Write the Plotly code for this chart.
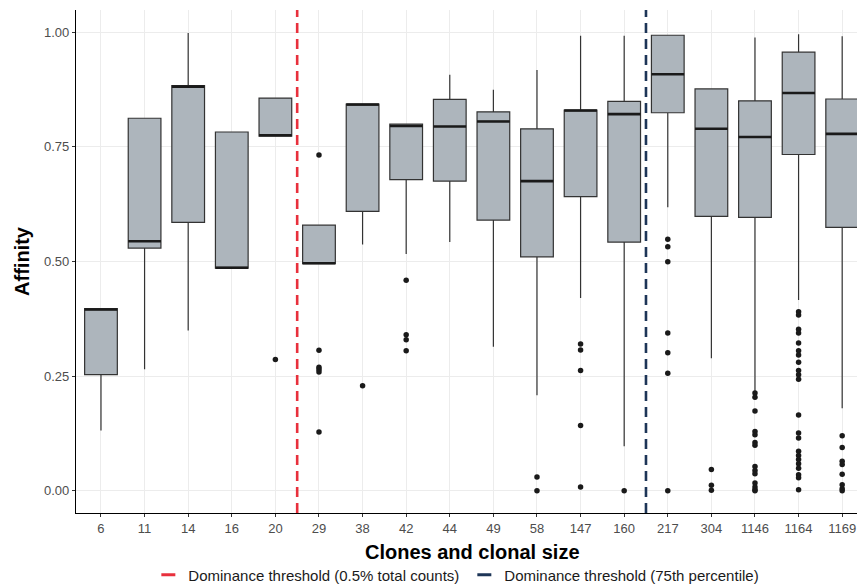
import plotly.graph_objects as go

# ---- data ----
categories = ["6", "11", "14", "16", "20", "29", "38", "42", "44", "49", "58",
              "147", "160", "217", "304", "1146", "1164", "1169"]
q1 = [0.253, 0.529, 0.585, 0.485, 0.773, 0.495, 0.609, 0.678, 0.675, 0.590, 0.510,
      0.641, 0.542, 0.824, 0.598, 0.596, 0.733, 0.574]
median = [0.395, 0.544, 0.881, 0.486, 0.775, 0.496, 0.842, 0.795, 0.794, 0.805, 0.675,
          0.829, 0.821, 0.908, 0.789, 0.771, 0.867, 0.778]
q3 = [0.397, 0.812, 0.883, 0.782, 0.856, 0.579, 0.843, 0.799, 0.853, 0.826, 0.789,
      0.830, 0.849, 0.993, 0.876, 0.850, 0.956, 0.854]
lower_whisker = [0.131, 0.265, 0.349, 0.485, 0.773, 0.495, 0.537, 0.516, 0.542, 0.314, 0.208,
                 0.420, 0.097, 0.618, 0.289, 0.213, 0.416, 0.180]
upper_whisker = [0.397, 0.812, 0.998, 0.782, 0.856, 0.579, 0.843, 0.799, 0.907, 0.874, 0.917,
                 0.992, 0.992, 0.993, 0.876, 0.988, 0.995, 0.991]
outliers = [
    [],
    [],
    [],
    [],
    [0.286],
    [0.732, 0.306, 0.269, 0.264, 0.259, 0.128],
    [0.229],
    [0.459, 0.340, 0.329, 0.305],
    [],
    [],
    [0.030, 0.0],
    [0.320, 0.307, 0.262, 0.142, 0.008],
    [0.0],
    [0.548, 0.532, 0.499, 0.344, 0.301, 0.256, 0.0],
    [0.046, 0.012, 0.001],
    [0.213, 0.204, 0.174, 0.129, 0.122, 0.105, 0.099, 0.053, 0.044, 0.037, 0.017, 0.008, 0.002, 0.0],
    [0.390, 0.383, 0.352, 0.344, 0.322, 0.305, 0.296, 0.280, 0.262, 0.253, 0.243, 0.165,
     0.126, 0.115, 0.086, 0.077, 0.068, 0.059, 0.049, 0.035, 0.028, 0.002],
    [0.120, 0.094, 0.064, 0.057, 0.036, 0.013, 0.004, 0.0],
]
threshold_pct_pos = 4.5      # between "20" and "29"
threshold_p75_pos = 12.5     # between "160" and "217"
legend_labels = ["Dominance threshold (0.5% total counts)", "Dominance threshold (75th percentile)"]
x_title = "Clones and clonal size"
y_title = "Affinity"

# ---- styling ----
FONT = "Liberation Sans, Arial, Helvetica, sans-serif"
BOX_FILL = "#adb5bc"
BOX_LINE = "#333333"
RED = "#e8303c"
NAVY = "#1d3557"
BOX_W = 0.75

pos = list(range(len(categories)))

fig = go.Figure()

fig.add_trace(go.Box(
    x=pos, q1=q1, median=median, q3=q3,
    lowerfence=lower_whisker, upperfence=upper_whisker,
    width=BOX_W, whiskerwidth=0, boxpoints=False,
    fillcolor=BOX_FILL, line=dict(color=BOX_LINE, width=1.2),
    showlegend=False, hoverinfo="skip",
))

# thicker median bars (ggplot style)
mx, my = [], []
for i, m in zip(pos, median):
    mx += [i - BOX_W / 2, i + BOX_W / 2, None]
    my += [m, m, None]
fig.add_trace(go.Scatter(x=mx, y=my, mode="lines",
                         line=dict(color="#1a1a1a", width=2.6),
                         showlegend=False, hoverinfo="skip"))

# outliers
ox, oy = [], []
for i, vals in zip(pos, outliers):
    ox += [i] * len(vals)
    oy += vals
fig.add_trace(go.Scatter(x=ox, y=oy, mode="markers",
                         marker=dict(color="#1a1a1a", size=5.5),
                         showlegend=False, hoverinfo="skip"))

# threshold lines
for xpos, col in [(threshold_pct_pos, RED), (threshold_p75_pos, NAVY)]:
    fig.add_shape(type="line", xref="x", yref="paper", x0=xpos, x1=xpos, y0=0, y1=1,
                  line=dict(color=col, width=2.6, dash="10px,6px"), layer="above")

# legend entries
for lab, col in zip(legend_labels, [RED, NAVY]):
    fig.add_trace(go.Scatter(x=[None], y=[None], mode="markers", name=lab,
                             marker=dict(symbol="line-ew", size=10,
                                         line=dict(color=col, width=3))))

# x axis title (centred on the full ggplot panel, which runs past the right edge)
fig.add_annotation(text=f"<b>{x_title}</b>", xref="paper", x=0.5077, xanchor="center",
                   yref="paper", y=-0.0775, yanchor="middle",
                   showarrow=False, font=dict(size=20, color="black", family=FONT))

grid = "#ececec"
fig.update_layout(
    width=857, height=586,
    margin=dict(l=76, r=0, t=10, b=73, autoexpand=False),
    plot_bgcolor="white", paper_bgcolor="white",
    font=dict(family=FONT, color="#4d4d4d", size=13),
    xaxis=dict(
        range=[-0.573, 17.34],
        tickmode="array", tickvals=pos, ticktext=categories,
        showgrid=True, gridcolor=grid, gridwidth=1,
        zeroline=False, showline=True, linecolor="black", linewidth=1.2,
        ticks="outside", ticklen=3, tickcolor="#333333",
        tickfont=dict(size=13, color="#4d4d4d"),
        automargin=False,
    ),
    yaxis=dict(
        range=[-0.0486, 1.048],
        tickmode="array", tickvals=[0, 0.25, 0.5, 0.75, 1.0],
        ticktext=["0.00", "0.25", "0.50", "0.75", "1.00"],
        showgrid=True, gridcolor=grid, gridwidth=1,
        zeroline=False, showline=True, linecolor="black", linewidth=1.2,
        ticks="outside", ticklen=3, tickcolor="#333333",
        tickfont=dict(size=13, color="#4d4d4d"),
        title=dict(text=f"<b>{y_title}</b>", font=dict(size=20, color="black"), standoff=8),
        automargin=False,
    ),
    legend=dict(orientation="h", x=0.487, xanchor="center",
                yref="container", y=(586 - 575) / 586, yanchor="middle",
                font=dict(size=15, color="#1a1a1a"),
                bgcolor="rgba(0,0,0,0)"),
)

fig.write_html("out.html")
